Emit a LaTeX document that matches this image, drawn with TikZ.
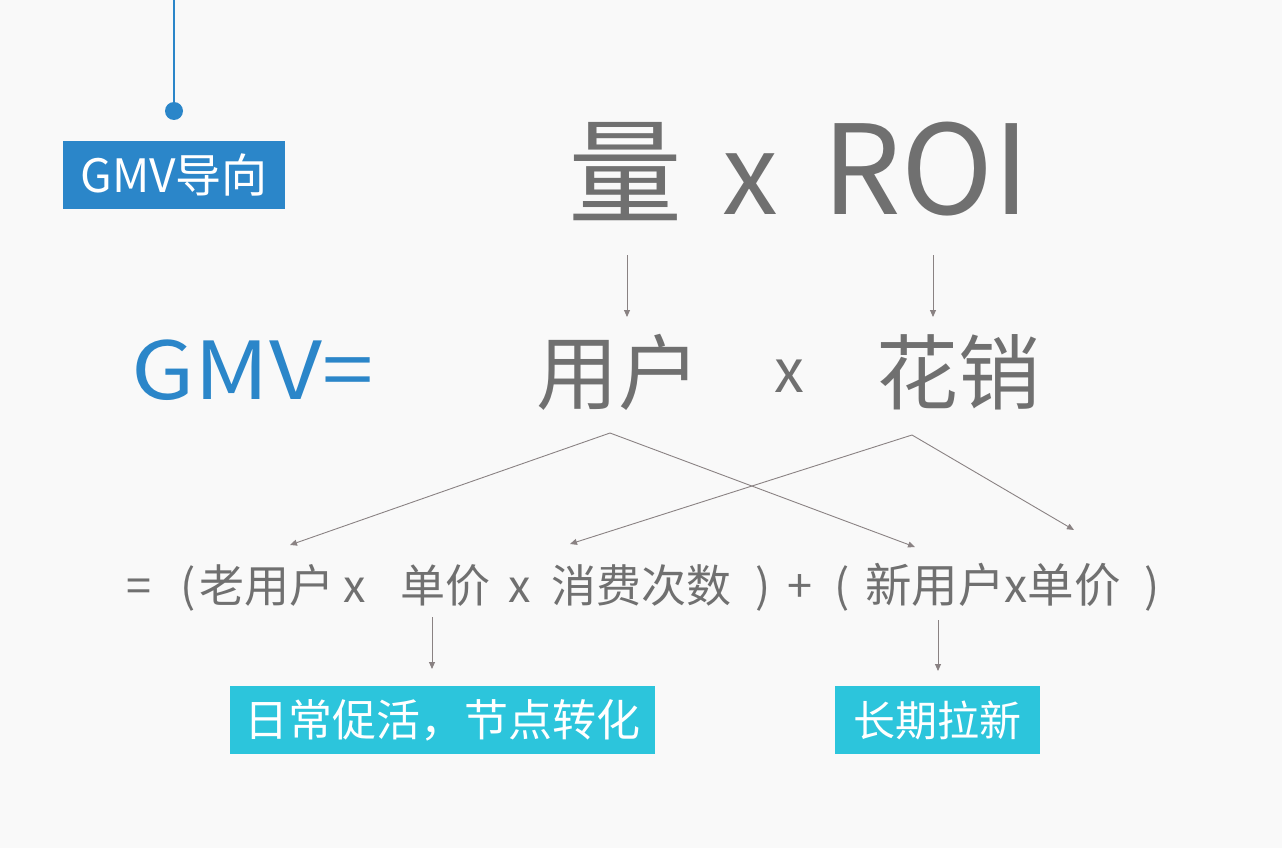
\documentclass[tikz,border=0pt]{standalone}
\usepackage{fontspec}
\setmainfont{Noto Sans CJK SC}
\usetikzlibrary{arrows.meta}
\definecolor{bgcol}{HTML}{F9F9F9}
\definecolor{blueC}{HTML}{2B86C9}
\definecolor{cyanC}{HTML}{2CC5DC}
\definecolor{greyT}{HTML}{707070}
\definecolor{lineC}{HTML}{8A8283}
\tikzset{
  conn/.style={draw=lineC, line width=0.9pt, -{Triangle[length=7pt,width=6pt]}},
  tagbox/.style={fill=#1, text=white, inner sep=0pt, anchor=north west},
  gtext/.style={text=greyT, inner sep=0pt},
  ftext/.style={gtext, font=\fontsize{45}{50}\selectfont, anchor=base},
}
\begin{document}
\begin{tikzpicture}[x=1pt,y=-1pt]
\fill[bgcol] (0,0) rectangle (1282,848);
\useasboundingbox (0,0) rectangle (1282,848);
% top connector with dot
\coordinate (top) at (174,0);
\node[circle, fill=blueC, minimum size=18pt, inner sep=0pt] (dot) at (174,111) {};
\draw[blueC, line width=1.6pt] (top) -- (dot.center);
% GMV导向 box
\node[tagbox=blueC, minimum width=222pt, minimum height=68pt] (gmvtag) at (63,141) {};
\node[text=white, inner sep=0pt, font=\fontsize{46}{50}\selectfont] (gmvtagt) at (gmvtag.center) {GMV导向};
% big title
\node[gtext, font=\fontsize{114}{120}\selectfont, anchor=base] (liang) at (625,214) {量};
\node[gtext, font=\fontsize{112}{120}\selectfont, anchor=base] (xtop) at (750,214) {x};
\node[gtext, font=\fontsize{124}{130}\selectfont, anchor=base] (roi) at (926,214) {ROI};
% GMV=
\node[text=blueC, inner sep=0pt, font=\fontsize{80}{90}\selectfont, anchor=west] (gmveq) at (131,370) {\scalebox{1.15}[1]{GMV=}};
% 用户 x 花销
\node[gtext, font=\fontsize{82}{90}\selectfont] (yonghu) at (618,372) {用户};
\node[gtext, font=\fontsize{60}{70}\selectfont] (xmid) at (789,376) {x};
\node[gtext, font=\fontsize{82}{90}\selectfont] (huaxiao) at (958,372) {花销};
% arrows from title
\coordinate (t1) at (627,255);
\coordinate (t2) at (933,255);
\coordinate (y1) at (627,317);
\coordinate (h1) at (933,317);
\draw[conn] (t1) -- (y1);
\draw[conn] (t2) -- (h1);
% formula line
\node[ftext] (f1) at (139,602) {=};
\node[ftext] (f2) at (188,602) {(};
\node[ftext] (f3) at (267,602) {老用户};
\node[ftext] (f4) at (355,602) {x};
\node[ftext] (f5) at (445,602) {单价};
\node[ftext] (f6) at (520,602) {x};
\node[ftext] (f7) at (641,602) {消费次数};
\node[ftext] (f8) at (763,602) {)};
\node[ftext] (f9) at (800,602) {+};
\node[ftext] (f10) at (842,602) {(};
\node[ftext, font=\fontsize{46.5}{50}\selectfont] (f11) at (993,602) {新用户x单价};
\node[ftext] (f12) at (1152,602) {)};
% crossing connectors
\coordinate (ys) at (610,433);
\coordinate (hs) at (912,435);
\coordinate (e1) at (290,545);
\coordinate (e2) at (915,547);
\coordinate (e3) at (570,544);
\coordinate (e4) at (1074,530);
\draw[conn] (ys) -- (e1);
\draw[conn] (ys) -- (e2);
\draw[conn] (hs) -- (e3);
\draw[conn] (hs) -- (e4);
% down arrows to tags
\coordinate (d1) at (432,617);
\coordinate (d2) at (938,620);
\coordinate (d1e) at (432,669);
\coordinate (d2e) at (938,671);
\node[tagbox=cyanC, minimum width=425pt, minimum height=68pt] (tag1) at (230,686) {};
\node[tagbox=cyanC, minimum width=205pt, minimum height=68pt] (tag2) at (835,686) {};
\node[text=white, inner sep=0pt, font=\fontsize{44}{48}\selectfont] (tag1t) at (tag1.center) {日常促活，节点转化};
\node[text=white, inner sep=0pt, font=\fontsize{42}{48}\selectfont] (tag2t) at (tag2.center) {长期拉新};
\draw[conn] (d1) -- (d1e);
\draw[conn] (d2) -- (d2e);
\end{tikzpicture}
\end{document}
